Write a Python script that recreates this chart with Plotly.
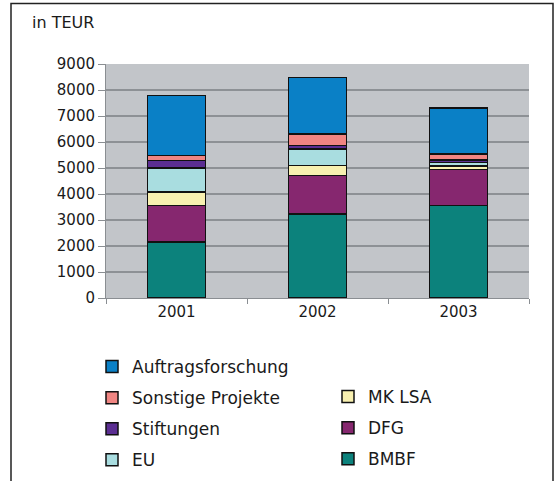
import plotly.graph_objects as go

years = ["2001", "2002", "2003"]
series_names = ["BMBF", "DFG", "MK LSA", "EU", "Stiftungen", "Sonstige Projekte", "Auftragsforschung"]
bmbf = [2150, 3230, 3550]
dfg = [1400, 1490, 1400]
mk_lsa = [525, 370, 120]
eu = [925, 640, 150]
stiftungen = [280, 140, 80]
sonstige = [200, 440, 230]
auftrag = [2300, 2180, 1780]
y_ticks = [0, 1000, 2000, 3000, 4000, 5000, 6000, 7000, 8000, 9000]

values = [bmbf, dfg, mk_lsa, eu, stiftungen, sonstige, auftrag]
colors = ["#0c827c", "#86276f", "#f8f0b0", "#a9dde0", "#5b2e92", "#f08582", "#0a80c6"]
legend_of = ["legend2", "legend2", "legend2", "legend", "legend", "legend", "legend"]
ranks = [7, 6, 5, 4, 3, 2, 1]

W, H = 556, 481
L, R, T, B = 106, 529, 64, 298
pw, ph = R - L, B - T

def px(x):
    return (x - L) / pw

def py(y):
    return (B - y) / ph

FONT = "DejaVu Sans"
FS = 15
LFS = 17

fig = go.Figure()
for name, vals, col, lg, rk in zip(series_names, values, colors, legend_of, ranks):
    fig.add_trace(go.Bar(
        x=years, y=vals, name=name, legend=lg, legendgroup=name, legendrank=rk,
        marker=dict(color=col, line=dict(color="#111111", width=1.5)),
    ))

fig.update_layout(
    width=W, height=H,
    margin=dict(l=L, r=W - R, t=T, b=H - B, autoexpand=False),
    barmode="stack", bargap=0.59,
    plot_bgcolor="#c2c5c9", paper_bgcolor="white",
    font=dict(family=FONT, size=FS, color="#1a1a1a"),
    xaxis=dict(type="category", showline=True, linecolor="#8a8e92", linewidth=1,
               ticks="outside", tickson="boundaries", ticklen=5, tickcolor="#8a8e92",
               showgrid=False, tickfont=dict(size=FS)),
    yaxis=dict(range=[0, 9000], tickvals=y_ticks, showline=True, linecolor="#8a8e92",
               linewidth=1, ticks="outside", ticklen=7, tickcolor="#8a8e92",
               gridcolor="#8d9195", gridwidth=1.5, zeroline=False, tickfont=dict(size=FS)),
    legend=dict(x=px(92), y=py(349), xanchor="left", yanchor="top",
                traceorder="grouped", tracegroupgap=6,
                font=dict(size=LFS), bgcolor="rgba(0,0,0,0)"),
    legend2=dict(x=px(328), y=py(379), xanchor="left", yanchor="top",
                 traceorder="grouped", tracegroupgap=6,
                 font=dict(size=LFS), bgcolor="rgba(0,0,0,0)"),
    showlegend=True,
)

fig.add_annotation(text="in TEUR", xref="paper", yref="paper", x=px(30), y=py(23),
                   xanchor="left", yanchor="middle", showarrow=False, font=dict(size=16))

fig.add_shape(type="rect", xref="paper", yref="paper",
              x0=px(11), x1=px(553), y0=py(490), y1=py(3.5),
              line=dict(color="#222222", width=1.5), fillcolor="rgba(0,0,0,0)", layer="below")

fig.write_html("out.html", config={"displayModeBar": False},
               post_script="document.body.style.margin='0';document.body.style.overflow='hidden';")
